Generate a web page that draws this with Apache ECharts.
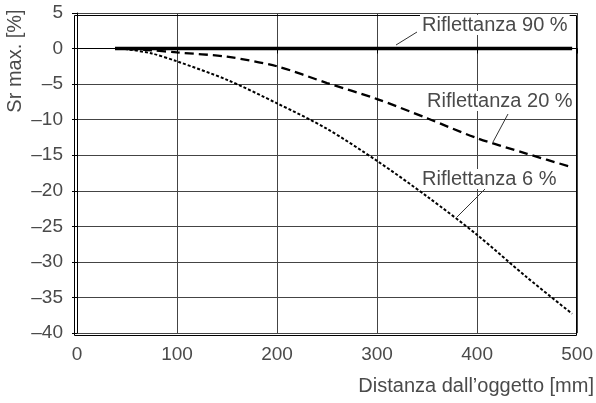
<!DOCTYPE html>
<html><head><meta charset="utf-8">
<script src="https://cdn.jsdelivr.net/npm/echarts@6/dist/echarts.min.js"></script>
<style>html,body{margin:0;padding:0;background:#fff}#c{width:596px;height:403px}</style>
</head><body><div id="c"></div>
<script>
const distances = [38, 50, 75, 100, 150, 200, 250, 300, 350, 400, 450, 495];
const refl90 = [0, 0, 0, 0, 0, 0, 0, 0, 0, 0, 0, 0];
const refl20 = [0, -0.05, -0.25, -0.55, -1.15, -2.5, -4.85, -7.1, -9.8, -12.6, -14.8, -16.7];
const refl6  = [0, -0.1, -0.7, -1.8, -4.4, -7.7, -11.3, -15.8, -20.8, -26.2, -32.2, -37.3];
const seriesNames = ['Riflettanza 90 %', 'Riflettanza 20 %', 'Riflettanza 6 %'];
const xTitle = 'Distanza dall\u2019oggetto [mm]';
const yTitle = 'Sr max. [%]';

const FONT = 'Liberation Sans';
const TXT = '#4a4a4a';
const pair = arr => distances.map((d, i) => [d, arr[i]]);

const chart = echarts.init(document.getElementById('c'), null, {renderer: 'canvas'});
chart.setOption({
  animation: false,
  grid: {left: 77, right: 17, top: 13, bottom: 70, containLabel: false},
  xAxis: {
    type: 'value', min: 0, max: 500, interval: 100,
    axisLine: {show: true, lineStyle: {color: '#000', width: 1}},
    axisTick: {show: true, length: 5, lineStyle: {color: '#000'}},
    axisLabel: {margin: 12, fontFamily: FONT, fontSize: 19, color: TXT},
    splitLine: {show: true, lineStyle: {color: '#444', width: 1}}
  },
  yAxis: {
    type: 'value', min: -40, max: 5, interval: 5,
    axisLine: {show: true, lineStyle: {color: '#000', width: 1}},
    axisTick: {show: true, length: 5, lineStyle: {color: '#000'}},
    axisLabel: {margin: 14, fontFamily: FONT, fontSize: 19, color: TXT,
      formatter: v => String(v).replace('-', '\u2013')},
    splitLine: {show: true, lineStyle: {color: '#444', width: 1}}
  },
  series: [
    {name: seriesNames[0], type: 'line', data: pair(refl90), showSymbol: false, z: 5,
      lineStyle: {color: '#000', width: 3.4}},
    {name: seriesNames[1], type: 'line', data: pair(refl20), showSymbol: false, smooth: 0.3, z: 4,
      lineStyle: {color: '#000', width: 2.3, type: [9, 5]}},
    {name: seriesNames[2], type: 'line', data: pair(refl6), showSymbol: false, smooth: 0.3, z: 4,
      lineStyle: {color: '#000', width: 2, type: [3, 2]}}
  ],
  graphic: [
    {type: 'rect', right: 17, top: 13, shape: {width: 502, height: 320}, silent: true, z: 1,
      style: {fill: 'none', stroke: '#000', lineWidth: 1}},
    {type: 'line', shape: {x1: 396, y1: 45, x2: 417, y2: 32}, style: {stroke: '#333', lineWidth: 1}, z: 10},
    {type: 'line', shape: {x1: 508, y1: 114, x2: 493, y2: 142}, style: {stroke: '#333', lineWidth: 1}, z: 10},
    {type: 'line', shape: {x1: 485, y1: 189, x2: 457, y2: 217}, style: {stroke: '#333', lineWidth: 1}, z: 10},
    {type: 'text', x: 420, y: 25, z: 10, style: {text: seriesNames[0], font: '20px "Liberation Sans"', fill: TXT,
      verticalAlign: 'middle', backgroundColor: '#fff', padding: [0, 2]}},
    {type: 'text', x: 425, y: 101, z: 10, style: {text: seriesNames[1], font: '20px "Liberation Sans"', fill: TXT,
      verticalAlign: 'middle', backgroundColor: '#fff', padding: [0, 2]}},
    {type: 'text', x: 420, y: 179, z: 10, style: {text: seriesNames[2], font: '20px "Liberation Sans"', fill: TXT,
      verticalAlign: 'middle', backgroundColor: '#fff', padding: [0, 2]}},
    {type: 'text', x: 594, y: 386, z: 10, style: {text: xTitle, font: '20px "Liberation Sans"', fill: TXT,
      align: 'right', verticalAlign: 'middle'}},
    {type: 'text', x: 15, y: 61, rotation: Math.PI / 2, z: 10, style: {text: yTitle, font: '20px "Liberation Sans"', fill: TXT,
      align: 'center', verticalAlign: 'middle'}}
  ]
});
</script></body></html>
